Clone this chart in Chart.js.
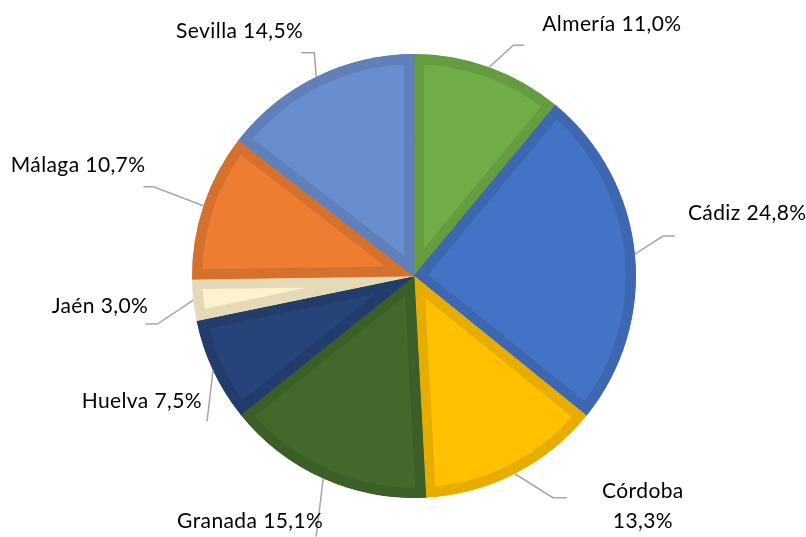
<!DOCTYPE html>
<html>
<head>
<meta charset="utf-8">
<script src="https://cdn.jsdelivr.net/npm/chart.js@4"></script>
<style>
  html, body { margin: 0; padding: 0; background: #ffffff; }
  #wrap { width: 806px; height: 537px; }
</style>
</head>
<body>
<div id="wrap"><canvas id="c" width="806" height="537"></canvas></div>
<script>
// Provincias y su porcentaje
const provincias = ['Almería', 'Cádiz', 'Córdoba', 'Granada', 'Huelva', 'Jaén', 'Málaga', 'Sevilla'];
const porcentajes = [11.0, 24.8, 13.3, 15.1, 7.5, 3.0, 10.7, 14.5];

// Colores de relleno y de borde interior
const rellenos = ['#70AD47', '#4472C4', '#FFC000', '#43682B', '#264478', '#FFF2CC', '#ED7D31', '#698ED0'];
const bordes   = ['#659C40', '#3E67B1', '#E6AD00', '#3C5E27', '#223D6C', '#E5DAB8', '#D5712C', '#5F80BB'];

// Colocación de etiquetas respecto al punto medio del borde de cada sector:
// codo y final de la línea guía, posición del texto y alineación
const etiquetasLayout = [
  { elbow: [24, -22],  end: [35, -22],  text: [53, -43],  align: 'left'   },
  { elbow: [28, -18],  end: [40, -18],  text: [53, -41],  align: 'left'   },
  { elbow: [38, 24],   end: [52, 24],   text: [128, 17],  align: 'center', split: true },
  { elbow: null,       end: [-7, 58],   text: [-73, 43],  align: 'center' },
  { elbow: null,       end: [-6, 51],   text: [-11, 31],  align: 'right'  },
  { elbow: [-36, 24],  end: [-48, 24],  text: [-45, 6],   align: 'right'  },
  { elbow: [-50, -19], end: [-60, -19], text: [-58, -40], align: 'right'  },
  { elbow: [-2, -24],  end: [-15, -24], text: [-13, -45], align: 'right'  }
];

const fmt = v => v.toFixed(1).replace('.', ',') + '%';

const etiquetasExternas = {
  id: 'etiquetasExternas',
  afterDatasetsDraw(chart) {
    const ctx = chart.ctx;
    const meta = chart.getDatasetMeta(0);
    ctx.save();
    ctx.font = '21px Lato, "Open Sans", sans-serif';
    if ('letterSpacing' in ctx) ctx.letterSpacing = '0.4px';
    ctx.fillStyle = '#000000';
    ctx.textBaseline = 'middle';
    meta.data.forEach((arc, i) => {
      const p = arc.getProps(['x', 'y', 'startAngle', 'endAngle', 'outerRadius'], true);
      const mid = (p.startAngle + p.endAngle) / 2;
      const ax = p.x + Math.cos(mid) * p.outerRadius;
      const ay = p.y + Math.sin(mid) * p.outerRadius;
      const L = etiquetasLayout[i];
      // línea guía
      ctx.strokeStyle = '#A6A6A6';
      ctx.lineWidth = 1.5;
      ctx.beginPath();
      ctx.moveTo(ax, ay);
      if (L.elbow) ctx.lineTo(ax + L.elbow[0], ay + L.elbow[1]);
      ctx.lineTo(ax + L.end[0], ay + L.end[1]);
      ctx.stroke();
      // texto
      ctx.textAlign = L.align;
      const tx = ax + L.text[0];
      const ty = ay + L.text[1];
      if (L.split) {
        ctx.fillText(provincias[i], tx, ty);
        ctx.fillText(fmt(porcentajes[i]), tx, ty + 30);
      } else {
        ctx.fillText(provincias[i] + ' ' + fmt(porcentajes[i]), tx, ty);
      }
    });
    ctx.restore();
  }
};

new Chart(document.getElementById('c'), {
  type: 'pie',
  data: {
    labels: provincias,
    datasets: [{
      data: porcentajes,
      backgroundColor: rellenos,
      borderColor: bordes,
      borderWidth: 10,
      borderAlign: 'inner'
    }]
  },
  options: {
    responsive: false,
    animation: false,
    events: [],
    layout: { padding: { top: 54, bottom: 39, left: 22, right: 0 } },
    plugins: {
      legend: { display: false },
      tooltip: { enabled: false }
    }
  },
  plugins: [etiquetasExternas]
});
</script>
</body>
</html>
